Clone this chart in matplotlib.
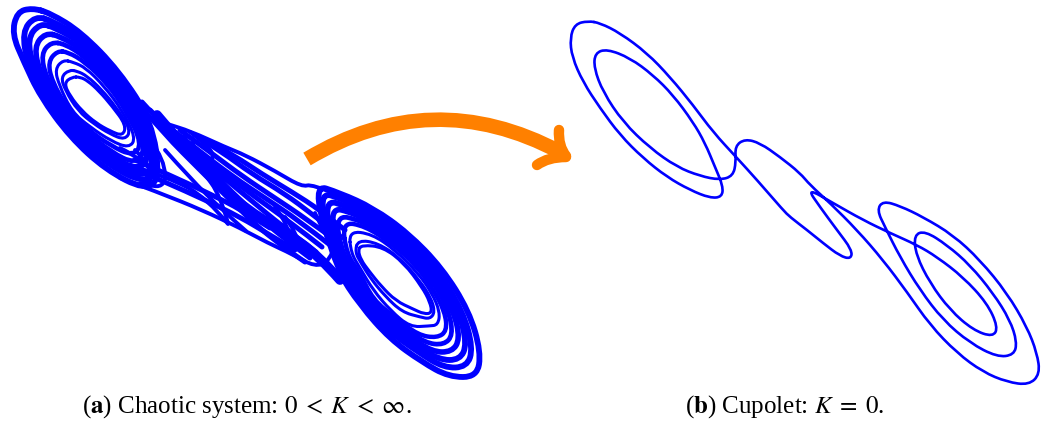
import numpy as np
import matplotlib
matplotlib.use("Agg")
import matplotlib.pyplot as plt
from matplotlib.path import Path
from matplotlib.patches import PathPatch

plt.rcParams['font.family'] = ['Liberation Serif', 'DejaVu Serif']
plt.rcParams['mathtext.fontset'] = 'stix'

cupolet_x = [588, 575, 570, 572, 583, 600, 620, 643, 667, 690, 710, 722, 723, 715, 705, 693, 673, 653, 630, 607,
             595, 594, 603, 623, 650, 677, 700, 720, 733, 736, 735, 745, 760, 780, 800, 810, 830, 857, 883, 907,
             930, 957, 983, 1007, 1029, 1040, 1037, 1027, 1007, 980, 953, 923, 900, 883, 877, 885, 900, 920, 943,
             970, 997, 1014, 1017, 1010, 993, 970, 947, 925, 914, 916, 930, 950, 973, 993, 998, 987, 963, 937,
             917, 890, 863, 833, 807, 820, 837, 852, 851, 840, 823, 807, 790, 783, 757, 737, 713, 693, 670, 647,
             620, 600]
cupolet_y = [21, 24, 38, 57, 82, 108, 135, 158, 177, 190, 198, 197, 186, 167, 143, 122, 95, 75, 58, 49,
             53, 68, 92, 122, 148, 167, 176, 180, 176, 162, 146, 139, 143, 157, 173, 185, 203, 230, 260, 292,
             325, 353, 372, 382, 385, 374, 353, 327, 293, 260, 235, 217, 206, 201, 210, 227, 257, 290, 320,
             343, 357, 355, 342, 320, 293, 265, 245, 231, 235, 255, 283, 310, 330, 337, 327, 303, 277, 257,
             245, 233, 220, 203, 188, 207, 230, 250, 259, 256, 243, 230, 217, 210, 180, 158, 132, 105, 77, 53,
             33, 23]

upper_wing_loops = [
    [(32, 8), (17, 12), (12, 34), (24, 62), (40, 96), (70, 137), (106, 170), (145, 190), (160, 178), (152, 122), (119, 71), (81, 32), (50, 13)],
    [(35, 16), (22, 32), (28, 65), (46, 99), (75, 136), (110, 166), (144, 183), (158, 170), (146, 120), (116, 74), (81, 38), (53, 21)],
    [(40, 23), (27, 39), (34, 69), (52, 101), (79, 136), (112, 162), (142, 177), (155, 165), (142, 118), (114, 76), (82, 43), (56, 28)],
    [(45, 33), (34, 47), (40, 73), (57, 104), (82, 134), (111, 157), (138, 170), (150, 158), (137, 116), (111, 79), (83, 50), (60, 36)],
    [(51, 42), (41, 54), (46, 77), (62, 106), (85, 131), (111, 152), (135, 164), (146, 150), (132, 114), (109, 81), (84, 56), (65, 44)],
    [(57, 51), (48, 62), (52, 81), (67, 108), (87, 129), (111, 146), (133, 156), (142, 144), (127, 112), (107, 83), (85, 62), (68, 52)],
    [(63, 60), (55, 69), (59, 85), (72, 112), (90, 127), (111, 141), (129, 148), (136, 138), (122, 110), (104, 86), (86, 68), (73, 62)],
    [(69, 70), (61, 77), (65, 90), (78, 111), (94, 124), (110, 134), (125, 140), (131, 130), (116, 107), (101, 89), (87, 76), (77, 71)],
    [(72, 77), (64, 83), (70, 96), (82, 111), (96, 123), (110, 131), (123, 136), (126, 125), (112, 106), (99, 91), (88, 81), (80, 77)],
]

lower_wing_loops = [
    [(312, 184), (340, 193), (373, 208), (408, 233), (442, 268), (469, 311), (481, 352), (477, 377), (449, 377), (422, 362), (390, 339), (360, 305), (337, 270)],
    [(317, 191), (345, 200), (376, 215), (409, 239), (439, 272), (463, 312), (473, 348), (467, 367), (444, 368), (418, 352), (386, 329), (358, 295), (336, 263)],
    [(323, 199), (349, 207), (379, 221), (410, 246), (438, 276), (459, 312), (467, 344), (460, 360), (439, 360), (412, 343), (380, 320), (356, 287), (336, 258)],
    [(329, 207), (354, 213), (383, 229), (412, 252), (436, 280), (454, 312), (460, 339), (452, 352), (432, 352), (406, 334), (376, 312), (357, 281), (340, 257)],
    [(335, 215), (360, 220), (387, 236), (414, 259), (435, 284), (449, 312), (453, 335), (444, 345), (425, 343), (402, 326), (373, 305), (358, 276), (343, 256)],
    [(342, 222), (365, 226), (391, 243), (416, 265), (433, 289), (445, 312), (447, 331), (437, 338), (418, 335), (396, 318), (373, 300), (359, 271), (347, 255)],
    [(349, 231), (372, 234), (395, 250), (418, 273), (432, 293), (440, 312), (438, 325), (429, 326), (410, 327), (391, 311), (373, 290), (360, 268), (351, 253)],
    [(358, 240), (378, 243), (400, 258), (420, 281), (431, 298), (435, 312), (430, 319), (420, 317), (402, 312), (385, 296), (371, 279), (361, 263), (355, 252)],
    [(362, 245), (383, 247), (404, 263), (422, 287), (430, 302), (432, 313), (424, 314), (413, 309), (396, 301), (381, 286), (369, 271), (361, 260), (358, 250)],
]

band_core = [(157, 115), (185, 148), (215, 182), (250, 212), (285, 232), (318, 255), (340, 280)]

# Steep strands that leave the upper wing and run into the lower one
band_strands = [
    [(135, 100), (165, 135), (200, 170), (235, 205), (270, 238), (305, 262)],
    [(142, 102), (170, 133), (205, 165), (240, 200), (275, 232), (310, 258)],
    [(150, 110), (178, 138), (212, 168), (247, 197), (282, 226), (316, 252)],
    [(160, 118), (188, 145), (222, 172), (255, 197), (290, 222), (322, 247)],
    [(170, 128), (198, 150), (232, 176), (265, 198), (298, 220), (330, 245)],
    [(180, 130), (210, 152), (242, 176), (275, 198), (305, 218), (335, 240)],
    [(195, 135), (222, 152), (252, 174), (285, 194), (312, 214), (340, 236)],
    [(210, 142), (235, 156), (262, 174), (292, 192), (320, 210), (345, 230)],
    [(125, 165), (165, 182), (205, 200), (240, 217), (270, 235), (295, 250)],
    [(135, 160), (172, 176), (208, 193), (242, 210), (270, 228)],
]

middle_strands = [
    [(120, 178), (160, 193), (202, 210), (240, 228), (268, 243), (292, 254), (315, 267), (330, 261), (335, 245)],
    [(130, 165), (170, 178), (207, 198), (228, 224)],
    [(165, 150), (190, 178), (222, 210), (246, 231)],
    [(150, 118), (167, 124), (190, 131), (225, 147), (245, 155), (275, 171), (302, 187), (312, 184), (338, 195)],
    [(175, 138), (193, 134), (193, 148), (203, 172), (220, 195), (228, 223)],
    [(190, 132), (215, 150), (210, 165), (225, 185)],
    [(275, 207), (288, 223), (293, 247)],
    [(285, 217), (297, 233), (300, 248)],
    [(315, 213), (325, 235), (345, 270)],
    [(135, 150), (150, 165), (152, 185), (140, 183)],
    [(150, 140), (165, 160), (165, 190), (150, 185)],
    [(120, 148), (145, 160), (158, 178)],
]

arrow_shaft = [(307, 159), (432, 84), (560, 152)]
arrow_barb_top = [(566, 156), (558, 146), (559, 130)]
arrow_barb_low = [(566, 157), (548, 157), (537, 165)]

caption_a = r"($\mathbf{a}$) Chaotic system: $0\;<\;K\;<\;\infty$."
caption_b = r"($\mathbf{b}$) Cupolet: $K\;=\;0$."


def spline_path(points, closed=False):
    """
    Builds a smooth path using the traced points as quadratic control points.
    """
    pts = np.array(points, dtype=float)
    if closed:
        verts = [(pts[-1] + pts[0]) / 2]
        codes = [Path.MOVETO]
        for i in range(len(pts)):
            verts += [pts[i], (pts[i] + pts[(i + 1) % len(pts)]) / 2]
            codes += [Path.CURVE3, Path.CURVE3]
    else:
        verts = [pts[0]]
        codes = [Path.MOVETO]
        for i in range(1, len(pts) - 1):
            end = pts[-1] if i == len(pts) - 2 else (pts[i] + pts[i + 1]) / 2
            verts += [pts[i], end]
            codes += [Path.CURVE3, Path.CURVE3]
    return Path(verts, codes)


def draw_curve(ax, points, lw, closed=False, color='#0000ff', cap='round'):
    ax.add_patch(PathPatch(spline_path(points, closed), fill=False, edgecolor=color, lw=lw,
                           capstyle=cap, joinstyle='round'))


fig = plt.figure(figsize=(10.43, 4.23), dpi=100)
ax = fig.add_axes([0, 0, 1, 1])
ax.set_xlim(0, 1043)
ax.set_ylim(423, 0)
ax.axis('off')

# (a) chaotic attractor, outer turns heavier than the ones round the hole
loop_widths = [4.2, 4.2, 4.2, 4.0, 3.4, 3.2, 2.2, 2.2, 2.2]
for loops in (upper_wing_loops, lower_wing_loops):
    for loop, lw in zip(loops, loop_widths):
        draw_curve(ax, loop, lw, closed=True)
for strand in band_strands:
    draw_curve(ax, strand, 3.6)
draw_curve(ax, band_core, 7)
for strand in middle_strands:
    draw_curve(ax, strand, 2.8)

# (b) cupolet
draw_curve(ax, list(zip(cupolet_x, cupolet_y)), 1.9, closed=True)

# Arrow between the panels
orange = '#ff8000'
draw_curve(ax, arrow_shaft, 10.5, color=orange, cap='butt')
draw_curve(ax, arrow_barb_top, 7.5, color=orange)
draw_curve(ax, arrow_barb_low, 7.5, color=orange)

ax.text(82, 407, caption_a, fontsize=18, va='center', ha='left', color='black')
ax.text(685, 407, caption_b, fontsize=18, va='center', ha='left', color='black')

fig.savefig('out.png', dpi=100)
